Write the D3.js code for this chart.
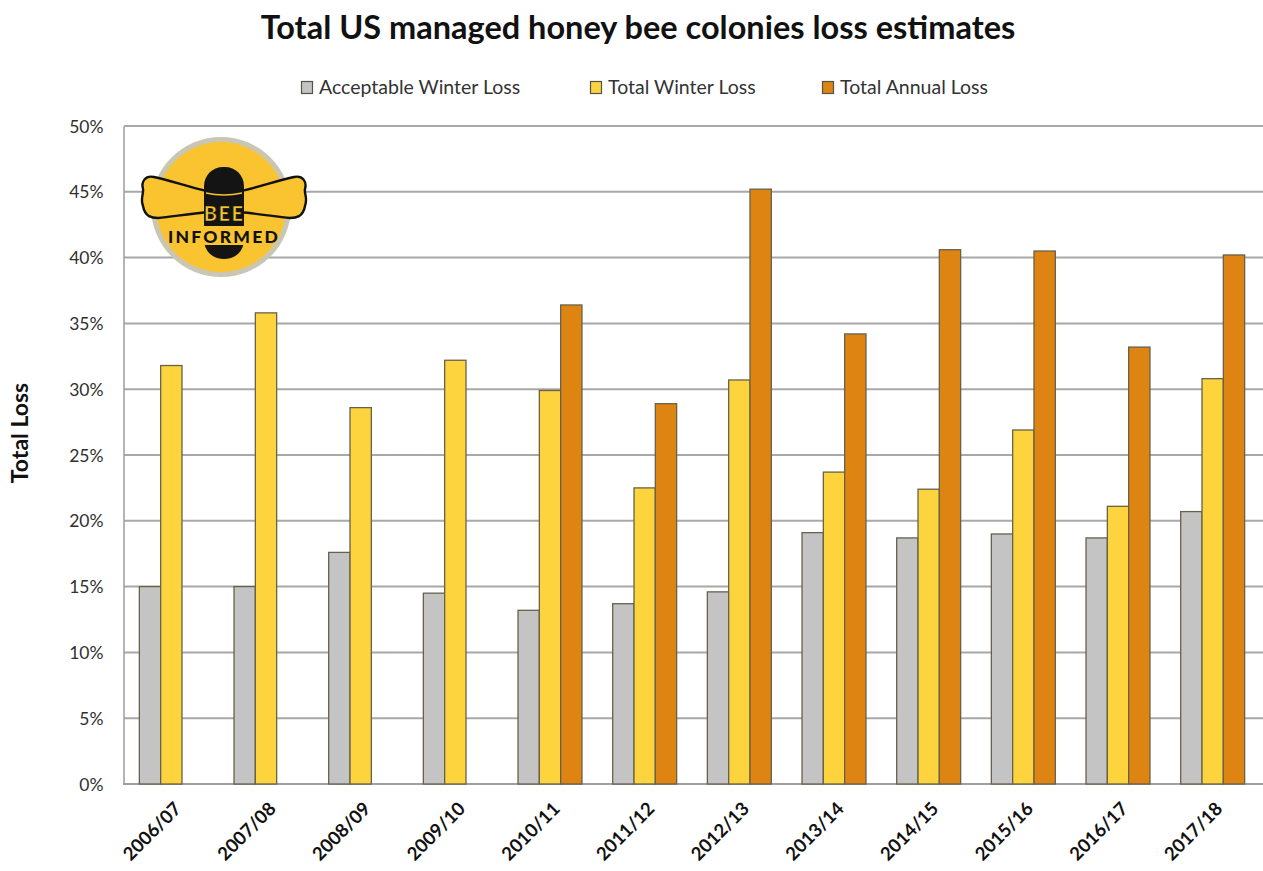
<!DOCTYPE html>
<html>
<head>
<meta charset="utf-8">
<script src="https://cdn.jsdelivr.net/npm/d3@7/dist/d3.min.js"></script>
<style>
  html, body { margin: 0; padding: 0; background: #fff; }
  svg { display: block; font-family: Lato, "Open Sans", sans-serif; }
</style>
</head>
<body>
<svg id="chart" width="1263" height="871"></svg>
<script>
// Survey seasons
const categories = ["2006/07", "2007/08", "2008/09", "2009/10", "2010/11", "2011/12",
                    "2012/13", "2013/14", "2014/15", "2015/16", "2016/17", "2017/18"];
// Loss percentages per season
const acceptableWinterLoss = [15.0, 15.0, 17.6, 14.5, 13.2, 13.7, 14.6, 19.1, 18.7, 19.0, 18.7, 20.7];
const totalWinterLoss      = [31.8, 35.8, 28.6, 32.2, 29.9, 22.5, 30.7, 23.7, 22.4, 26.9, 21.1, 30.8];
const totalAnnualLoss      = [null, null, null, null, 36.4, 28.9, 45.2, 34.2, 40.6, 40.5, 33.2, 40.2];
const seriesNames = ["Acceptable Winter Loss", "Total Winter Loss", "Total Annual Loss"];
const seriesColors = ["#C4C4C4", "#FDD43E", "#DE8413"];
const yTicks = [0, 5, 10, 15, 20, 25, 30, 35, 40, 45, 50];

const seriesValues = [acceptableWinterLoss, totalWinterLoss, totalAnnualLoss];
const rows = categories.map((c, i) => ({
  cat: c,
  vals: seriesNames.map((s, k) => ({ key: s, k, v: seriesValues[k][i] }))
}));

const svg = d3.select("#chart");
const plot = { left: 124, right: 1260, top: 126, bottom: 784 };

const x = d3.scaleBand().domain(categories).range([plot.left, plot.right]).padding(0);
const xs = d3.scaleBand().domain(seriesNames).range([0, x.bandwidth()])
  .paddingInner(0).paddingOuter(0.72);
const y = d3.scaleLinear().domain([0, 50]).range([plot.bottom, plot.top]);

// Title
svg.append("text")
  .attr("x", 638).attr("y", 39)
  .attr("text-anchor", "middle")
  .attr("font-size", 32.5).attr("font-weight", 700).attr("fill", "#111")
  .text("Total US managed honey bee colonies loss estimates");

// Legend
const legendX = [301, 590, 822];
const leg = svg.append("g");
seriesNames.forEach((s, k) => {
  leg.append("rect")
    .attr("x", legendX[k] + 0.5).attr("y", 81.5).attr("width", 11).attr("height", 12)
    .attr("fill", seriesColors[k]).attr("stroke", "#55524a").attr("stroke-width", 1.2);
  leg.append("text")
    .attr("x", legendX[k] + 18).attr("y", 94)
    .attr("font-size", 19.5).attr("fill", "#333")
    .text(s);
});

// Gridlines
svg.append("g")
  .selectAll("line")
  .data(yTicks.filter(t => t > 0))
  .join("line")
  .attr("x1", plot.left).attr("x2", plot.right + 3)
  .attr("y1", d => y(d)).attr("y2", d => y(d))
  .attr("stroke", "#A8A8A8").attr("stroke-width", 2);

// Y axis
const yAxis = d3.axisLeft(y).tickValues(yTicks).tickSize(0).tickPadding(20)
  .tickFormat(d => d + "%");
const yg = svg.append("g").attr("transform", `translate(${plot.left - 0.5},0)`).call(yAxis);
yg.select(".domain").attr("stroke", "#9C9C9C").attr("stroke-width", 1.5);
yg.selectAll("text").attr("font-size", 17.5).attr("fill", "#303030")
  .attr("font-family", "Lato, sans-serif").attr("dy", "0.35em");

// Y title
svg.append("text")
  .attr("transform", "translate(28,433) rotate(-90)")
  .attr("text-anchor", "middle")
  .attr("font-size", 23).attr("font-weight", 700).attr("fill", "#111")
  .text("Total Loss");

// X axis line
svg.append("line")
  .attr("x1", plot.left - 1).attr("x2", plot.right + 3)
  .attr("y1", plot.bottom).attr("y2", plot.bottom)
  .attr("stroke", "#A0A0A0").attr("stroke-width", 2);

// Bars
const groups = svg.append("g").selectAll("g")
  .data(rows).join("g")
  .attr("transform", d => `translate(${x(d.cat)},0)`);
groups.selectAll("rect")
  .data(d => d.vals.filter(v => v.v !== null))
  .join("rect")
  .attr("x", d => xs(d.key))
  .attr("width", xs.bandwidth())
  .attr("y", d => y(d.v))
  .attr("height", d => y(0) - y(d.v))
  .attr("fill", d => seriesColors[d.k])
  .attr("stroke", "#66624c").attr("stroke-width", 1.3);

// X labels
svg.append("g").selectAll("text")
  .data(categories).join("text")
  .attr("transform", d => `translate(${x(d) + x.bandwidth() / 2 + 11},810) rotate(-45)`)
  .attr("text-anchor", "end")
  .attr("font-size", 18.5).attr("font-weight", 700).attr("fill", "#111")
  .text(d => d);

// Bee Informed badge
const logo = svg.append("g").attr("transform", "translate(221,207)");
logo.append("circle").attr("r", 70).attr("fill", "#C9C7B3");
logo.append("circle").attr("r", 65).attr("fill", "#F9C430");
const wing = "M -17 -16 C -35 -20 -55 -27 -70 -30 C -79 -32 -83 -25 -81 -18 C -80 -13 -84 -9 -81 -1 C -79 10 -72 11 -66 11 C -50 9 -32 7 -17 5 Z";
logo.append("path").attr("d", wing).attr("transform", "translate(3,0)")
  .attr("fill", "#F9C430").attr("stroke", "#111").attr("stroke-width", 2.4);
logo.append("path").attr("d", wing).attr("transform", "translate(3,0) scale(-1,1)")
  .attr("fill", "#F9C430").attr("stroke", "#111").attr("stroke-width", 2.4);
// body
logo.append("rect").attr("x", -17).attr("y", -40).attr("width", 40).attr("height", 92)
  .attr("rx", 19).attr("fill", "#141414");
logo.append("path").attr("d", "M -15 -14 Q 3 -10 21 -14")
  .attr("fill", "none").attr("stroke", "#F9C430").attr("stroke-width", 1.6);
logo.append("rect").attr("x", -20).attr("y", 19).attr("width", 46).attr("height", 19)
  .attr("fill", "#F9C430");
logo.append("text").attr("x", 3).attr("y", 14)
  .attr("text-anchor", "middle").attr("font-size", 20).attr("font-weight", 900)
  .attr("letter-spacing", 1.5).attr("fill", "#F9C430").attr("stroke", "#111").attr("stroke-width", 0.7)
  .text("BEE");
logo.append("text").attr("x", 3).attr("y", 36)
  .attr("text-anchor", "middle").attr("font-size", 17.5).attr("font-weight", 900)
  .attr("letter-spacing", 2.2).attr("fill", "#111")
  .text("INFORMED");
</script>
</body>
</html>
